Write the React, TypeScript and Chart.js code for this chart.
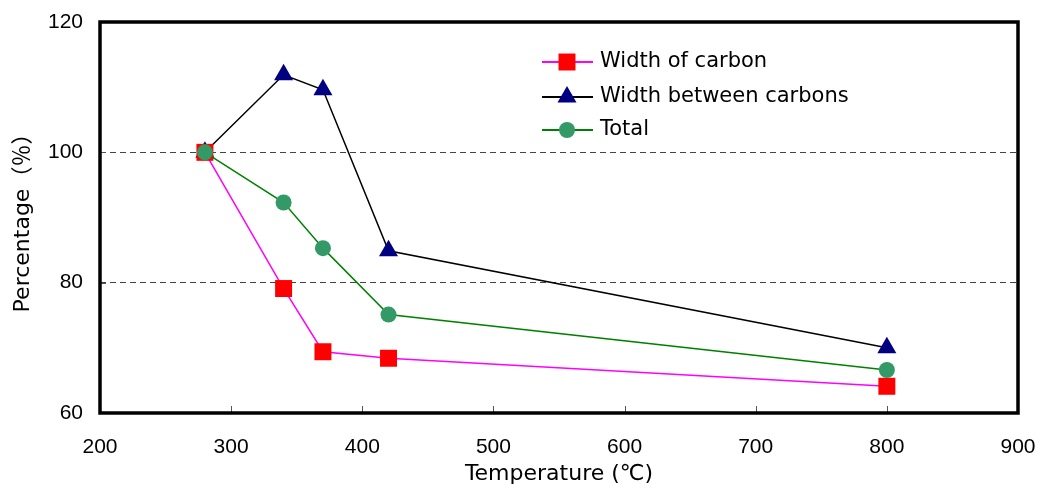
import React, { useEffect, useRef } from "react";
import { Chart, registerables } from "chart.js";

Chart.register(...registerables);

const temperatures = [280, 340, 370, 420, 800];
const widthOfCarbon = [100, 79.1, 69.4, 68.4, 64.1];
const widthBetweenCarbons = [100, 111.9, 109.6, 84.9, 70.0];
const total = [100, 92.3, 85.3, 75.1, 66.6];
const seriesNames = ["Width of carbon", "Width between carbons", "Total"];
const xTicks = [300, 400, 500, 600, 700, 800];
const yTicks = [80, 100];

const toPoints = (ys: number[]) => temperatures.map((x, i) => ({ x, y: ys[i] }));

const framePlugin = {
  id: "frameAndLegend",
  afterDraw(chart: any) {
    const { ctx, chartArea } = chart;
    const xs = chart.scales.x;
    const ys = chart.scales.y;
    ctx.save();
    // inward tick marks
    ctx.strokeStyle = "#555";
    ctx.lineWidth = 1;
    ctx.beginPath();
    xTicks.forEach((v) => {
      const px = Math.round(xs.getPixelForValue(v)) + 0.5;
      ctx.moveTo(px, chartArea.bottom);
      ctx.lineTo(px, chartArea.bottom - 7);
    });
    yTicks.forEach((v) => {
      const py = Math.round(ys.getPixelForValue(v)) + 0.5;
      ctx.moveTo(chartArea.left, py);
      ctx.lineTo(chartArea.left + 6, py);
    });
    ctx.stroke();
    // frame
    ctx.strokeStyle = "#000";
    ctx.lineWidth = 3.5;
    ctx.strokeRect(chartArea.left, chartArea.top, chartArea.right - chartArea.left, chartArea.bottom - chartArea.top);
    // legend
    const rows = [62, 97, 130];
    chart.data.datasets.forEach((ds: any, i: number) => {
      const y = rows[i];
      ctx.strokeStyle = ds.borderColor;
      ctx.lineWidth = 2;
      ctx.beginPath();
      ctx.moveTo(542, y);
      ctx.lineTo(593, y);
      ctx.stroke();
      ctx.fillStyle = ds.pointBackgroundColor;
      const r = ds.pointRadius;
      ctx.beginPath();
      if (ds.pointStyle === "rect") {
        const s = Math.SQRT1_2 * r;
        ctx.rect(567 - s, y - s, 2 * s, 2 * s);
      } else if (ds.pointStyle === "triangle") {
        ctx.moveTo(567, y - r);
        ctx.lineTo(567 + r * 0.866, y + r / 2);
        ctx.lineTo(567 - r * 0.866, y + r / 2);
        ctx.closePath();
      } else {
        ctx.arc(567, y, r, 0, Math.PI * 2);
      }
      ctx.fill();
      ctx.fillStyle = "#000";
      ctx.font = '21px "DejaVu Sans"';
      ctx.textBaseline = "middle";
      ctx.textAlign = "left";
      ctx.fillText(seriesNames[i], 600, y);
    });
    ctx.restore();
  },
};

export default function App() {
  const ref = useRef<HTMLCanvasElement>(null);
  useEffect(() => {
    if (!ref.current) return;
    const chart = new Chart(ref.current, {
      type: "line",
      data: {
        datasets: [
          {
            label: seriesNames[0],
            data: toPoints(widthOfCarbon),
            borderColor: "#FF00FF",
            borderWidth: 1.5,
            pointStyle: "rect",
            pointRadius: 12,
            pointBackgroundColor: "#FF0000",
            pointBorderColor: "#FF0000",
            pointBorderWidth: 0,
            order: 1,
          },
          {
            label: seriesNames[1],
            data: toPoints(widthBetweenCarbons),
            borderColor: "#000000",
            borderWidth: 1.5,
            pointStyle: "triangle",
            pointRadius: 11,
            pointBackgroundColor: "#000080",
            pointBorderColor: "#000080",
            pointBorderWidth: 0,
            order: 2,
          },
          {
            label: seriesNames[2],
            data: toPoints(total),
            borderColor: "#008000",
            borderWidth: 1.5,
            pointStyle: "circle",
            pointRadius: 8,
            pointBackgroundColor: "#339966",
            pointBorderColor: "#339966",
            pointBorderWidth: 0,
            order: 0,
          },
        ],
      },
      options: {
        animation: false,
        responsive: false,
        maintainAspectRatio: false,
        layout: { padding: { left: 0, right: 19, top: 22, bottom: 0 } },
        plugins: { legend: { display: false }, tooltip: { enabled: false } },
        scales: {
          x: {
            type: "linear",
            min: 200,
            max: 900,
            afterFit: (s: any) => {
              s.height = 71;
              s.paddingLeft = 0;
              s.paddingRight = 0;
            },
            ticks: {
              stepSize: 100,
              padding: 22,
              color: "#000",
              font: { family: '"Liberation Sans"', size: 21 },
            },
            grid: { display: false, drawTicks: false },
            border: { display: false },
            title: {
              display: true,
              text: "Temperature (℃)",
              color: "#000",
              font: { family: '"DejaVu Sans", "Noto Sans CJK JP"', size: 22 },
              padding: { top: 0, bottom: -3 },
            },
          },
          y: {
            type: "linear",
            min: 60,
            max: 120,
            afterFit: (s: any) => {
              s.width = 100;
              s.paddingTop = 0;
              s.paddingBottom = 0;
            },
            ticks: {
              stepSize: 20,
              padding: 17,
              color: "#000",
              font: { family: '"Liberation Sans"', size: 21 },
            },
            grid: {
              drawTicks: false,
              lineWidth: 1,
              color: (c: any) => (c.tick && (c.tick.value === 80 || c.tick.value === 100) ? "#444" : "rgba(0,0,0,0)"),
            },
            border: { display: false, dash: [6, 4] },
            title: {
              display: true,
              text: "Percentage（％）",
              color: "#000",
              font: { family: '"DejaVu Sans", "Noto Sans CJK JP"', size: 22 },
              padding: { top: 10, bottom: 0 },
            },
          },
        },
      },
      plugins: [framePlugin],
    });
    return () => chart.destroy();
  }, []);
  return (
    <div style={{ position: "absolute", left: 0, top: 0, width: 1037, height: 484, background: "#fff" }}>
      <canvas ref={ref} width={1037} height={484} style={{ width: 1037, height: 484 }} />
    </div>
  );
}
